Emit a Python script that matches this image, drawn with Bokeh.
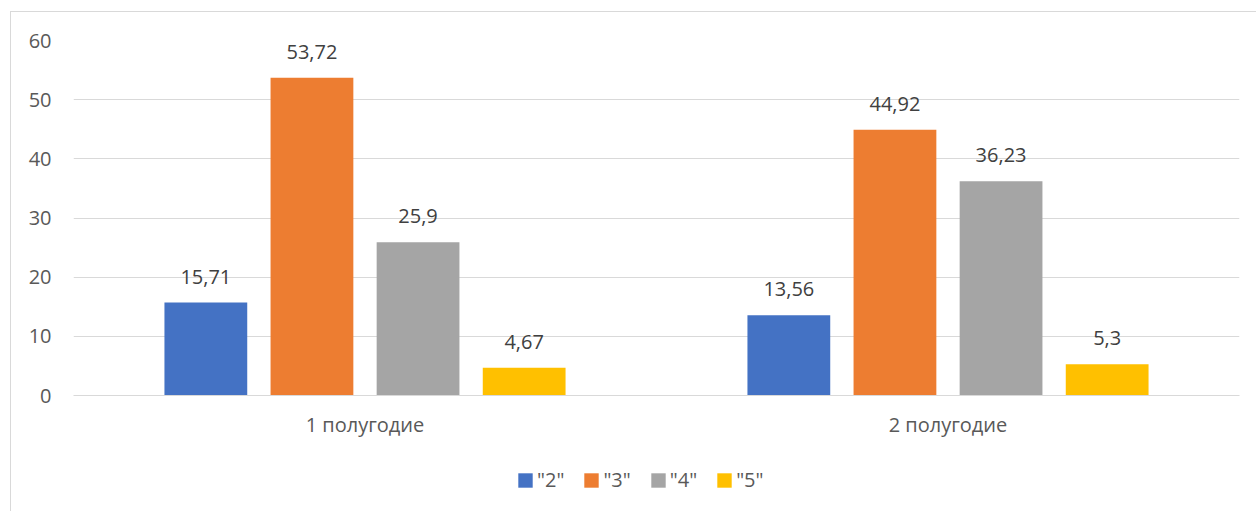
from bokeh.plotting import figure
from bokeh.layouts import column
from bokeh.models import (FactorRange, Range1d, ColumnDataSource, SingleIntervalTicker,
                          Legend, LegendItem, Label)
from bokeh.transform import dodge
from bokeh.core.properties import value
from bokeh.embed import file_html
from bokeh.resources import INLINE

categories = ["1 полугодие", "2 полугодие"]
grades = ['"2"', '"3"', '"4"', '"5"']
v2 = [15.71, 13.56]
v3 = [53.72, 44.92]
v4 = [25.9, 36.23]
v5 = [4.67, 5.3]
colors = ["#4472C4", "#ED7D31", "#A5A5A5", "#FFC000"]
title_text = "по русскому языку в 8-х классах"

def fmt(v):
    return ("%g" % v).replace(".", ",")

series = [v2, v3, v4, v5]
data = {"cat": categories}
for i, s in enumerate(series):
    data["v%d" % i] = s
    data["t%d" % i] = [fmt(x) for x in s]
source = ColumnDataSource(data)

TXT = "#595959"
FONT = "Open Sans"
GRID = "#D9D9D9"

# ---- main chart ----
p = figure(width=1256, height=450, output_backend="svg", toolbar_location=None,
           x_range=FactorRange(factors=categories, range_padding=0),
           y_range=Range1d(0, 60),
           min_border_left=73, min_border_right=17, min_border_top=40, min_border_bottom=55)
p.outline_line_color = None
p.background_fill_color = "white"
p.border_fill_color = None
p.styles = {
    "background": "linear-gradient(#D9D9D9, #D9D9D9) 10px 11px / 1px 100% no-repeat, "
                  "linear-gradient(#D9D9D9, #D9D9D9) 10px 11px / 100% 1px no-repeat, white"
}

bw = 0.142
pitch = 0.182
offsets = [-1.5 * pitch, -0.5 * pitch, 0.5 * pitch, 1.5 * pitch]
for i in range(4):
    p.vbar(x=dodge("cat", offsets[i], range=p.x_range), top="v%d" % i, width=bw,
           source=source, fill_color=colors[i], line_color=None)
    p.text(x=dodge("cat", offsets[i], range=p.x_range), y="v%d" % i, text="t%d" % i,
           source=source, text_align="center", text_baseline="alphabetic", y_offset=-26,
           text_font=value(FONT), text_font_size="20px", text_color="#404040")

p.yaxis.ticker = SingleIntervalTicker(interval=10)
p.yaxis.axis_line_color = None
p.yaxis.major_tick_line_color = None
p.yaxis.minor_tick_line_color = None
p.yaxis.major_label_standoff = 16
p.yaxis.major_label_text_font = FONT
p.yaxis.major_label_text_font_size = "20px"
p.yaxis.major_label_text_color = TXT

p.xaxis.axis_line_color = GRID
p.xaxis.major_tick_line_color = None
p.xaxis.minor_tick_line_color = None
p.xaxis.major_label_standoff = 9
p.xaxis.major_label_text_font = FONT
p.xaxis.major_label_text_font_size = "20px"
p.xaxis.major_label_text_color = TXT

p.xgrid.grid_line_color = None
p.ygrid.grid_line_color = GRID
p.ygrid.grid_line_width = 1

title = Label(x=518, y=388, x_units="screen", y_units="screen", text=title_text,
              text_font="Liberation Serif", text_font_style="bold", text_font_size="23px",
              text_color="#1A3D9E", text_align="center", text_baseline="alphabetic")
p.add_layout(title)

# ---- legend strip (same series; bars lie far outside this strip's visible ranges) ----
q = figure(width=1256, height=61, output_backend="svg", toolbar_location=None,
           x_axis_location=None, y_axis_location=None,
           x_range=FactorRange(factors=categories, range_padding=0), y_range=Range1d(1000, 1001),
           min_border_left=0, min_border_right=0, min_border_top=0, min_border_bottom=0)
q.outline_line_color = None
q.xgrid.grid_line_color = None
q.ygrid.grid_line_color = None
q.background_fill_color = None
q.border_fill_color = None
q.styles = {
    "background": "linear-gradient(#D9D9D9, #D9D9D9) 10px 0px / 1px 100% no-repeat, white"
}
legend_renderers = [q.vbar(x=dodge("cat", 20, range=q.x_range), top="v%d" % i,
                           width=bw, source=source, fill_color=colors[i], line_color=None)
                    for i in range(4)]
items = [LegendItem(label=grades[i], renderers=[legend_renderers[i]]) for i in range(4)]
legend = Legend(items=items, orientation="horizontal", location=(443, 18),
                border_line_color=None, background_fill_alpha=0, padding=0, margin=0,
                glyph_width=18, glyph_height=18, label_standoff=3, spacing=18,
                label_text_font=FONT, label_text_font_size="20px", label_text_color=TXT)
q.add_layout(legend, "center")

layout = column(p, q, spacing=0)
open("out.html", "w").write(file_html(layout, INLINE))
